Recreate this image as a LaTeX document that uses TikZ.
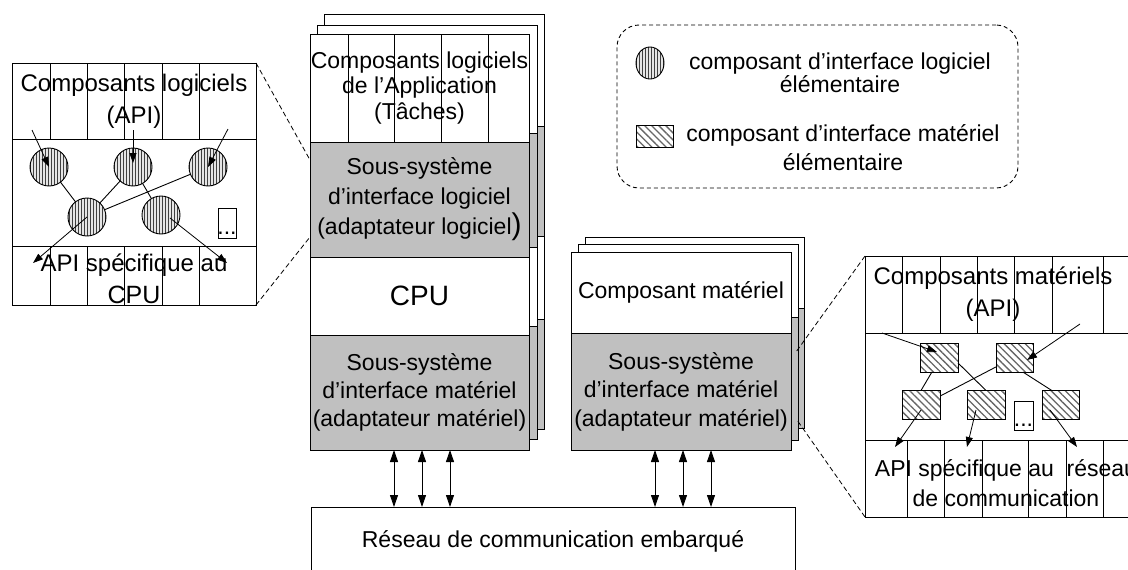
\documentclass[tikz,border=0pt]{standalone}
\usepackage{fontspec}
\setmainfont{Liberation Sans}
\usetikzlibrary{arrows.meta,patterns.meta,shapes.geometric}
\definecolor{panel}{HTML}{C0C0C0}
\begin{document}
\begin{tikzpicture}[x=1pt,y=-1pt,
  every node/.style={inner sep=0pt, outer sep=0pt, align=center},
  fs/.style={font=\fontsize{23}{#1}\selectfont},
  ln/.style={line width=0.9pt},
  wbox/.style={draw, ln, fill=white},
  gbox/.style={draw, ln, fill=panel},
  dbl/.style={{Triangle[length=12pt,width=8pt]}-{Triangle[length=12pt,width=8pt]}, ln},
  sml/.style={-{Triangle[length=10pt,width=7pt]}, line width=0.8pt},
  swc/.style={circle, draw, ln, minimum size=38pt, preaction={fill=gray!20},
    pattern={Lines[angle=90,distance=3pt,line width=0.7pt]}, pattern color=black!75},
  hwc/.style={rectangle, draw, ln, minimum width=38pt, minimum height=29pt, preaction={fill=white},
    pattern={Lines[angle=-45,distance=5pt,line width=1.3pt]}, pattern color=black!60},
  zoomln/.style={line width=0.8pt, dash pattern=on 5pt off 3pt},
]
\useasboundingbox (0,0) rectangle (1128,570);
\clip (0,0) rectangle (1128,570);

% ---------- main stack: back layers ----------
\draw[ln, fill=white] (324,14) rectangle (544,126);
\draw[ln, fill=panel] (324,126) rectangle (544,236);
\draw[ln, fill=white] (324,236) rectangle (544,319);
\draw[ln, fill=panel] (324,319) rectangle (544,429);
\draw[ln, fill=white] (317,25) rectangle (537,133);
\draw[ln, fill=panel] (317,133) rectangle (537,247);
\draw[ln, fill=white] (317,247) rectangle (537,326);
\draw[ln, fill=panel] (317,326) rectangle (537,439);
% front
\node[wbox, minimum width=219pt, minimum height=108pt] (app) at (419.5,88) {};
\foreach \x in {348,394,441,488} \draw[ln] (\x,34) -- (\x,142);
\node[fs=25.5] (apptxt) at (419.5,88) {Composants logiciels\\de l’Application\\(Tâches)};
\node[gbox, fs=30, minimum width=219pt, minimum height=115pt] (sws) at (419.5,199.5)
  {Sous-système\\d’interface logiciel\\(adaptateur logiciel{\fontsize{30}{30}\selectfont)}};
\node[wbox, font=\fontsize{28}{30}\selectfont, minimum width=219pt, minimum height=78pt] (cpu) at (419.5,296) {CPU};
\node[gbox, fs=28, minimum width=219pt, minimum height=115pt] (hws) at (419.5,392.5)
  {Sous-système\\d’interface matériel\\(adaptateur matériel)};

% ---------- right stack ----------
\draw[ln, fill=white] (585,237) rectangle (804,308);
\draw[ln, fill=panel] (585,308) rectangle (804,428);
\draw[ln, fill=white] (578,244) rectangle (798,317);
\draw[ln, fill=panel] (578,317) rectangle (798,440);
\node[wbox, fs=30, minimum width=220pt, minimum height=81pt] (comp) at (681,292.5) {Composant matériel};
\node[gbox, fs=28.5, minimum width=220pt, minimum height=117pt] (rhws) at (681,391.5)
  {Sous-système\\d’interface matériel\\(adaptateur matériel)};

% ---------- network ----------
\node[wbox, fs=30, minimum width=484pt, minimum height=68pt] (net) at (553,541) {Réseau de communication embarqué};

\draw[dbl] ([xshift=-25.5pt]hws.south) -- ([xshift=-25.5pt]hws.south |- net.north);
\draw[dbl] ([xshift=2.5pt]hws.south) -- ([xshift=2.5pt]hws.south |- net.north);
\draw[dbl] ([xshift=30.5pt]hws.south) -- ([xshift=30.5pt]hws.south |- net.north);
\draw[dbl] ([xshift=-26pt]rhws.south) -- ([xshift=-26pt]rhws.south |- net.north);
\draw[dbl] ([xshift=2pt]rhws.south) -- ([xshift=2pt]rhws.south |- net.north);
\draw[dbl] ([xshift=30pt]rhws.south) -- ([xshift=30pt]rhws.south |- net.north);

% ---------- left detail ----------
\node[wbox, minimum width=244pt, minimum height=242pt] (ldet) at (134,184) {};
\draw[ln] (12,139) -- (256,139);
\draw[ln] (12,246) -- (256,246);
\foreach \x in {50,87,124,162,199} {
  \draw[ln] (\x,63) -- (\x,139);
  \draw[ln] (\x,246) -- (\x,305);
}
\node[font=\fontsize{24}{32}\selectfont] (ltop) at (134,101) {Composants logiciels\\(API)};
\node[font=\fontsize{24}{32}\selectfont] (lbot) at (134,279) {API spécifique au\\{\fontsize{25}{32}\selectfont CPU}};
\node[swc] (c1) at (49,167) {};
\node[swc] (c2) at (133,167) {};
\node[swc] (c3) at (208,167) {};
\node[swc] (c4) at (87,217) {};
\node[swc] (c5) at (161,215) {};
\node[draw, ln, fill=white, minimum width=18pt, minimum height=30pt] (ld) at (227,223) {};
\node[fs=30, anchor=base] (ldots) at (227,234) {...};
\draw[ln] (c1) -- (c4);
\draw[ln] (c2) -- (c4);
\draw[ln] (c3) -- (c4);
\draw[ln] (c2) -- (c5);
\coordinate (a1) at (32,130);
\coordinate (a2) at (133,130);
\coordinate (a3) at (228,129);
\coordinate (o1) at (33,263);
\coordinate (o2) at (227,263);
\draw[sml] (a1) -- (c1.center);
\draw[sml] (a2) -- ([yshift=4pt]c2.center);
\draw[sml] (a3) -- (c3.center);
\draw[sml] (c4.center) -- (o1);
\draw[sml] ([xshift=9pt,yshift=-3pt]c5.center) -- (o2);

\draw[zoomln] (ldet.north east) -- ([yshift=39.5pt]sws.west);
\draw[zoomln] (ldet.south east) -- ([yshift=-37.5pt]sws.west);

% ---------- right detail ----------
\node[wbox, minimum width=275pt, minimum height=261pt] (rdet) at (1002.5,386.5) {};
\draw[ln] (865,333) -- (1140,333);
\draw[ln] (865,440) -- (1140,440);
\foreach \x in {902,940,977,1014,1052,1103} \draw[ln] (\x,256) -- (\x,333);
\foreach \x in {907,944,982,1028,1066,1103} \draw[ln] (\x,440) -- (\x,517);
\node[font=\fontsize{24}{32}\selectfont] (rtop) at (993,294) {Composants matériels\\(API)};
\node[fs=30] (rbot) at (1006,483) {API spécifique au\ \ réseau\\de communication};
\node[hwc] (r1) at (939,357.5) {};
\node[hwc, minimum width=37pt] (r2) at (1014.5,357.5) {};
\node[hwc] (r3) at (921,405) {};
\node[hwc] (r4) at (986,405) {};
\node[hwc, minimum width=37pt] (r5) at (1060.5,405) {};
\node[draw, ln, fill=white, minimum width=19pt, minimum height=29pt] (rd) at (1023.5,415.5) {};
\node[fs=30, anchor=base] (rdots) at (1023.5,426) {...};
\draw[ln] (r1.-116) -- (r3.north);
\draw[ln] (r1.-16) -- (r4.north);
\draw[ln] (r2.-153) -- (r3.25);
\draw[ln] (r2.-60) -- (r5.121);
\coordinate (b1) at (882,333);
\coordinate (b2) at (1080,324);
\coordinate (q1) at (895,447);
\coordinate (q2) at (967,447);
\coordinate (q3) at (1077,447);
\draw[sml] (b1) -- ([xshift=-2pt,yshift=5.5pt]r1.center);
\draw[sml] (b2) -- ([xshift=12.5pt,yshift=-2.5pt]r2.center);
\draw[sml] ([yshift=-5pt]r3.center) -- (q1);
\draw[sml] ([xshift=-10pt,yshift=-5pt]r4.center) -- (q2);
\draw[sml] ([xshift=-10.5pt,yshift=-5pt]r5.center) -- (q3);

\draw[zoomln] (rdet.north west) -- ([xshift=5pt,yshift=39.5pt]rhws.east);
\draw[zoomln] (rdet.south west) -- ([xshift=6pt,yshift=-28.5pt]rhws.east);

% ---------- legend ----------
\node[draw, line width=0.9pt, dash pattern=on 4pt off 3pt, rounded corners=22pt,
  minimum width=401pt, minimum height=163pt] (legend) at (817.5,106.5) {};
\node[ellipse, draw, ln, minimum width=28pt, minimum height=32pt, preaction={fill=gray!20},
  pattern={Lines[angle=90,distance=3pt,line width=0.7pt]}, pattern color=black!75] (lsw) at (650,63) {};
\node[hwc, minimum width=37pt, minimum height=22pt] (lhw) at (654.5,136) {};
\node[fs=23] (lt1) at (840,73) {composant d’interface logiciel\\élémentaire};
\node[fs=29] (lt2) at (843,148) {composant d’interface matériel\\élémentaire};
\end{tikzpicture}
\end{document}
